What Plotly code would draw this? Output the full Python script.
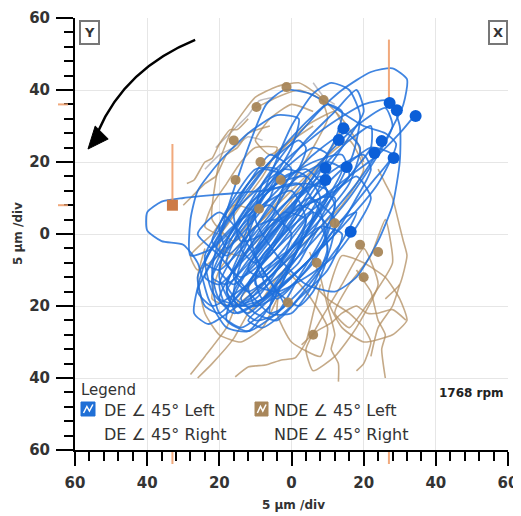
import plotly.graph_objects as go

# ---------------- data ----------------
tick_vals = [-60, -40, -20, 0, 20, 40, 60]
tick_text = ["60", "40", "20", "0", "20", "40", "60"]
axis_title = "5 µm /div"
speed_text = "1768 rpm"
legend_title = "Legend"
legend_de = ["DE ∠ 45° Left", "DE ∠ 45° Right"]
legend_nde = ["NDE ∠ 45° Left", "NDE ∠ 45° Right"]

de_orbit_01 = [(-27,-22),(-24,-8),(-16,6),(-6,20),(4,31),(14,40),(22,45),(28,46),(32,43),(31,36),(26,26),(18,14),(8,2),(-4,-10),(-15,-20),(-23,-25),(-27,-22)]
de_orbit_02 = [(-18,-15),(-12,0),(-6,16),(0,30),(6,39),(11,42),(16,40),(19,33),(17,22),(10,8),(2,-6),(-8,-18),(-15,-22),(-18,-15)]
de_orbit_03 = [(-22,-10),(-18,6),(-12,24),(-7,36),(-2,40),(5,39),(12,35),(20,30),(26,28),(29,25),(24,14),(14,2),(2,-10),(-10,-20),(-20,-18),(-22,-10)]
de_orbit_04 = [(-30,10),(-36,9),(-40,6),(-40,1),(-36,-2),(-30,-3),(-26,-8),(-23,-18),(-18,-26),(-12,-27),(-6,-20),(0,-8),(6,4),(10,12),(4,14),(-8,12),(-20,11),(-30,10)]
de_orbit_05 = [(30,30),(30,20),(28,8),(24,-2),(18,-12),(12,-16),(4,-14),(-4,-6),(-10,4),(-8,14),(0,22),(10,30),(20,36),(27,37),(30,30)]
de_orbit_06 = [(20,22),(12,18),(2,10),(-8,0),(-16,-10),(-20,-18),(-16,-22),(-8,-18),(2,-10),(12,0),(18,10),(22,18),(20,22)]
de_orbit_07 = [(15,28),(6,22),(-4,12),(-14,2),(-22,-8),(-26,-16),(-22,-20),(-12,-14),(-2,-6),(8,4),(16,14),(19,24),(15,28)]
de_orbit_08 = [(26,35),(18,30),(8,20),(-2,8),(-12,-4),(-18,-14),(-14,-19),(-4,-12),(6,-2),(16,10),(24,22),(28,30),(26,35)]
de_orbit_09 = [(5,10),(-2,4),(-10,-6),(-16,-16),(-18,-24),(-12,-27),(-4,-22),(4,-14),(10,-6),(12,4),(5,10)]
de_orbit_10 = [(12,12),(4,8),(-6,0),(-14,-8),(-20,-14),(-24,-12),(-20,-4),(-12,6),(-4,14),(6,20),(14,22),(16,16),(12,12)]
de_orbit_11 = [(22,10),(18,2),(12,-6),(4,-12),(-4,-16),(-10,-14),(-8,-6),(0,2),(10,10),(18,16),(22,10)]
de_orbit_12 = [(-28,4),(-26,12),(-20,20),(-12,28),(-4,33),(2,32),(0,24),(-6,14),(-14,4),(-22,-4),(-28,-6),(-28,4)]
de_orbit_13 = [(10,36),(4,30),(-4,20),(-12,8),(-18,-2),(-22,-12),(-18,-14),(-10,-6),(-2,4),(6,16),(12,26),(14,34),(10,36)]
de_orbit_14 = [(28,22),(22,14),(14,4),(6,-6),(-2,-14),(-8,-18),(-10,-12),(-4,-2),(4,8),(14,18),(22,24),(28,22)]
de_orbit_15 = [(0,0),(-6,-6),(-12,-14),(-10,-20),(-2,-16),(6,-8),(10,2),(6,6),(0,0)]
de_orbit_16 = [(18,40),(12,34),(4,26),(-4,16),(-10,6),(-14,-4),(-10,-8),(-2,0),(6,12),(14,24),(20,34),(18,40)]
de_orbit_17 = [(-8,10),(-14,2),(-18,-8),(-14,-12),(-6,-6),(2,4),(8,14),(4,18),(-2,16),(-8,10)]
de_orbit_18 = [(35,34),(30,28),(24,22),(16,16),(8,10),(0,6),(-6,2),(-10,-4)]
de_orbit_19 = [(-4,-24),(-10,-22),(-14,-18),(-8,-10),(0,-4),(8,2),(14,0),(10,-10),(2,-18),(-4,-24)]
de_orbit_20 = [(-26,0),(-20,-6),(-12,-16),(-6,-22),(-2,-20),(-8,-10),(-14,0),(-20,6),(-26,0)]
de_orbit_21 = [(-16,-20),(-20,-12),(-18,-2),(-12,8),(-4,14),(4,16),(8,10),(4,0),(-2,-10),(-8,-18),(-16,-20)]
de_orbit_22 = [(-10,-24),(-16,-18),(-14,-8),(-8,2),(0,10),(8,14),(12,8),(8,-2),(2,-12),(-4,-22),(-10,-24)]
de_orbit_23 = [(-22,-16),(-24,-6),(-18,4),(-10,12),(-2,18),(4,16),(0,6),(-6,-4),(-12,-14),(-18,-20),(-22,-16)]
de_orbit_24 = [(2,-20),(-4,-16),(-10,-6),(-12,4),(-6,12),(2,14),(8,6),(10,-6),(6,-16),(2,-20)]
de_orbit_25 = [(-14,-26),(-20,-22),(-22,-12),(-16,-2),(-8,8),(0,12),(4,4),(0,-8),(-6,-20),(-14,-26)]
de_orbit_26 = [(10,20),(2,16),(-6,8),(-12,-2),(-16,-12),(-12,-16),(-4,-10),(4,0),(10,10),(14,18),(10,20)]
de_orbit_27 = [(6,24),(-2,18),(-10,10),(-16,0),(-20,-10),(-16,-14),(-8,-6),(0,4),(6,14),(10,22),(6,24)]
de_orbit_28 = [(-24,-20),(-26,-12),(-22,-4),(-14,4),(-6,8),(-2,2),(-8,-8),(-14,-16),(-20,-22),(-24,-20)]
de_orbit_29 = [(14,4),(8,-4),(0,-12),(-8,-20),(-12,-24),(-8,-26),(0,-20),(8,-10),(14,-2),(18,6),(14,4)]
de_orbit_30 = [(-6,22),(-12,14),(-18,6),(-22,-2),(-18,-6),(-10,2),(-4,10),(0,18),(-6,22)]
de_orbit_31 = [(22,30),(16,26),(8,18),(0,8),(-8,-2),(-12,-10),(-8,-12),(0,-4),(8,6),(16,16),(22,24),(22,30)]
de_orbit_32 = [(2,26),(-6,20),(-14,10),(-20,0),(-24,-8),(-20,-10),(-12,-2),(-4,8),(2,18),(4,24),(2,26)]
de_orbit_33 = [(-6,-2),(-12,-10),(-16,-18),(-12,-22),(-4,-14),(2,-4),(6,6),(2,8),(-6,-2)]
de_orbit_34 = [(4,4),(-2,-4),(-8,-12),(-4,-18),(4,-10),(10,0),(12,10),(8,10),(4,4)]
de_orbit_35 = [(-10,18),(-16,10),(-20,2),(-18,-4),(-12,2),(-6,10),(-4,18),(-10,18)]
de_orbit_36 = [(-2,6),(-8,-2),(-14,-10),(-18,-16),(-14,-20),(-6,-12),(0,-4),(4,4),(-2,6)]
de_orbit_37 = [(8,16),(2,10),(-4,2),(-10,-6),(-8,-12),(-2,-6),(4,2),(10,10),(8,16)]
de_orbit_38 = [(-16,-6),(-20,-14),(-18,-20),(-10,-18),(-4,-10),(0,0),(-4,4),(-10,2),(-16,-6)]
de_orbit_39 = [(2,-8),(-4,-14),(-6,-22),(0,-22),(6,-14),(10,-4),(8,2),(2,-8)]
de_orbit_40 = [(-12,14),(-16,6),(-14,-2),(-8,0),(-4,8),(-2,16),(-8,18),(-12,14)]

nde_orbit_01 = [(-20,20),(-16,30),(-10,38),(-4,41),(2,42),(8,38),(10,32),(6,24),(0,14),(-8,4),(-16,-2),(-22,4),(-20,20)]
nde_orbit_02 = [(-29,14),(-27,15),(-24,20),(-22,21),(-20,25),(-17,29),(-15,29),(-12,32)]
nde_orbit_03 = [(-30,8),(-27,11),(-24,14),(-21,16),(-18,22),(-15,24),(-12,28),(-6,30)]
nde_orbit_04 = [(-5,-5),(-9,-9),(-12,-15),(-15,-19),(-18,-26),(-24,-34),(-28,-39)]
nde_orbit_05 = [(0,-8),(-4,-12),(-8,-18),(-12,-22),(-16,-29),(-22,-36),(-26,-40)]
nde_orbit_06 = [(-15.6,-39.7),(-11.9,-36.9),(-7.2,-36.4),(-2.8,-35),(1,-34.4),(4,-30),(6,-22),(8,-14)]
nde_orbit_07 = [(5,-5),(8,-12),(9,-16),(10,-20),(12,-28),(11,-32),(13,-36),(13,-41)]
nde_orbit_08 = [(2.8,-30.8),(7,-27),(11,-24.7),(14,-22),(18,-20),(21,-22),(24,-22),(28,-21),(31.7,-23.9)]
nde_orbit_09 = [(18,-10),(20,-13),(22,-16),(23,-20),(24,-24),(26,-28),(25,-32),(26,-40)]
nde_orbit_10 = [(14,-6),(20,-8),(26,-12),(30,-18),(32,-24),(28,-28),(20,-30),(14,-26),(10,-18),(14,-6)]
nde_orbit_11 = [(24,18),(26,14),(28,10),(30,2),(31,-2),(32,-6),(30,-14),(26,-18)]
nde_orbit_12 = [(16,26),(8,20),(-2,10),(-12,0),(-20,-10),(-22,-18),(-16,-20),(-6,-12),(4,-2),(14,8),(20,18),(16,26)]
nde_orbit_13 = [(12,34),(4,30),(-4,22),(-12,14),(-18,4),(-20,-4),(-14,-6),(-6,2),(2,12),(10,22),(14,30),(12,34)]
nde_orbit_14 = [(-10,35),(-4,38),(2,40),(9,37),(14,32),(18,26),(20,20)]
nde_orbit_15 = [(-24,-4),(-26,-12),(-24,-22),(-20,-28),(-14,-30),(-8,-26),(-4,-18)]
nde_orbit_16 = [(6,-14),(10,-18),(16,-22),(20,-26),(22,-30),(20,-36),(18,-38)]
nde_orbit_17 = [(20,-4),(14,-14),(8,-24),(4,-32),(6,-38),(12,-34),(18,-26),(24,-14),(20,-4)]
nde_orbit_18 = [(-2,-10),(4,-16),(10,-26),(8,-34),(0,-30),(-4,-22),(-2,-10)]
nde_orbit_19 = [(26,4),(22,-6),(16,-14),(12,-22),(16,-26),(22,-18),(28,-8),(26,4)]
nde_orbit_20 = [(-16,8),(-22,0),(-28,-6),(-26,-10),(-18,-4),(-10,6),(-16,8)]
nde_orbit_21 = [(30,-14),(28,-20),(24,-26),(22,-34)]
nde_orbit_22 = [(-14,20),(-18,14),(-22,8),(-24,2),(-20,0),(-14,8),(-8,16),(-4,24),(-10,24),(-14,20)]
nde_orbit_23 = [(6,34),(0,36),(-6,32),(-10,26),(-6,22),(0,26),(6,30)]

gray_orbit_01 = [(-21,24),(-18,27),(-15,30),(-12,33),(-9,37),(-5,38)]
gray_orbit_02 = [(-24,18),(-20,22),(-16,24),(-12,27),(-8,26)]
gray_orbit_03 = [(6,42),(9,38),(12,36)]

de_keyphasor_x = [27.2, 29.2, 34.4, 14.4, 13.1, 25.0, 23.0, 28.3, 15.3, 9.4, 9.4, 16.4]
de_keyphasor_y = [36.4, 34.4, 32.8, 29.4, 26.1, 25.8, 22.5, 21.1, 18.6, 18.3, 15.0, 0.6]

nde_keyphasor_x = [-9.7, -1.4, 8.9, -16, -15.5, -8.6, -3, -9, 12, 19, 7, 20, -1, 6, 24]
nde_keyphasor_y = [35.3, 40.8, 37.2, 26, 15, 20, 15, 7, 3, -3, -8, -12, -19, -28, -5]

filt_x = [-33, 27]
filt_y = [8, 36]
filt_top = [25, 54]

de_orbits = [de_orbit_01, de_orbit_02, de_orbit_03, de_orbit_04, de_orbit_05, de_orbit_06,
             de_orbit_07, de_orbit_08, de_orbit_09, de_orbit_10, de_orbit_11, de_orbit_12,
             de_orbit_13, de_orbit_14, de_orbit_15, de_orbit_16, de_orbit_17, de_orbit_18,
             de_orbit_19, de_orbit_20, de_orbit_21, de_orbit_22, de_orbit_23, de_orbit_24,
             de_orbit_25, de_orbit_26, de_orbit_27, de_orbit_28, de_orbit_29, de_orbit_30,
             de_orbit_31, de_orbit_32, de_orbit_33, de_orbit_34, de_orbit_35, de_orbit_36,
             de_orbit_37, de_orbit_38, de_orbit_39, de_orbit_40]
nde_orbits = [nde_orbit_01, nde_orbit_02, nde_orbit_03, nde_orbit_04, nde_orbit_05, nde_orbit_06,
              nde_orbit_07, nde_orbit_08, nde_orbit_09, nde_orbit_10, nde_orbit_11, nde_orbit_12,
              nde_orbit_13, nde_orbit_14, nde_orbit_15, nde_orbit_16, nde_orbit_17, nde_orbit_18,
              nde_orbit_19, nde_orbit_20, nde_orbit_21, nde_orbit_22, nde_orbit_23]
gray_orbits = [gray_orbit_01, gray_orbit_02, gray_orbit_03]

# ---------------- styles ----------------
BLUE = "rgba(30,112,220,0.85)"
BLUE_DOT = "#0b5fd8"
BROWN = "rgba(178,142,96,0.75)"
BROWN_DOT = "rgba(168,134,88,0.95)"
GRAY = "rgba(150,145,150,0.6)"
ORANGE = "rgba(240,160,110,0.9)"
FONT = "DejaVu Sans"

fig = go.Figure()


def add_paths(paths, color, width, smooth):
    for p in paths:
        fig.add_trace(go.Scatter(
            x=[a for a, b in p], y=[b for a, b in p], mode="lines",
            line=dict(color=color, width=width, shape="spline", smoothing=smooth),
            hoverinfo="skip", showlegend=False))


add_paths(gray_orbits, GRAY, 1.5, 0.4)
add_paths(nde_orbits, BROWN, 1.6, 0.5)
add_paths(de_orbits, BLUE, 1.8, 0.6)

# filtered vectors (orange)
for xv, y0, y1 in zip(filt_x, filt_y, filt_top):
    fig.add_trace(go.Scatter(x=[xv, xv], y=[y0, y1], mode="lines",
                             line=dict(color=ORANGE, width=2), hoverinfo="skip", showlegend=False))

fig.add_trace(go.Scatter(x=nde_keyphasor_x, y=nde_keyphasor_y, mode="markers",
                         marker=dict(color=BROWN_DOT, size=10), hoverinfo="skip", showlegend=False))
fig.add_trace(go.Scatter(x=[filt_x[0]], y=[filt_y[0]], mode="markers",
                         marker=dict(color="#cd7a45", size=11, symbol="square", line=dict(width=0)),
                         hoverinfo="skip", showlegend=False))
fig.add_trace(go.Scatter(x=de_keyphasor_x, y=de_keyphasor_y, mode="markers",
                         marker=dict(color=BLUE_DOT, size=12), hoverinfo="skip", showlegend=False))

# ---------------- layout ----------------
# page is rendered with the browser's default 8px body margin; compensate
OFF = 8
W, H = 521 - OFF, 516 - OFF
PL, PR, PT, PB = 75, 508, 18, 450          # plot area in page pixels
ML, MR, MT, MB = PL - OFF, W - (PR - OFF), PT - OFF, H - (PB - OFF)
pw, ph = W - ML - MR, H - MT - MB


def px(x):
    return (x - OFF - ML) / pw


def py(y):
    return (H - MB - (y - OFF)) / ph


axis_common = dict(
    range=[-60, 60], tickmode="array", tickvals=tick_vals, ticktext=tick_text,
    showgrid=True, gridcolor="#e6e6e6", gridwidth=1, zeroline=False, automargin=False,
    showline=True, linecolor="black", linewidth=2, ticks="outside", tickwidth=2,
    tickcolor="black", tickfont=dict(family=FONT, size=15, color="#333333", weight="bold"),
    minor=dict(tickmode="linear", tick0=0, dtick=4, ticks="outside", ticklen=9,
               tickwidth=2, tickcolor="black", showgrid=False),
    fixedrange=True,
)

fig.update_layout(
    width=W, height=H, margin=dict(l=ML, r=MR, t=MT, b=MB),
    paper_bgcolor="white", plot_bgcolor="white",
    xaxis=dict(**axis_common, ticklen=14, ticklabelstandoff=4),
    yaxis=dict(**axis_common, ticklen=17, ticklabelstandoff=3),
    showlegend=False,
)

shapes = []
# orange markers at axes
for yv in filt_y:
    shapes.append(dict(type="line", xref="paper", yref="y", x0=px(58), x1=px(68), y0=yv, y1=yv,
                       line=dict(color=ORANGE, width=2)))
for xv in filt_x:
    shapes.append(dict(type="line", xref="x", yref="paper", x0=xv, x1=xv, y0=py(452), y1=py(464),
                       line=dict(color=ORANGE, width=2)))
# rotation arrow
shapes.append(dict(type="path", xref="x", yref="y",
                   path="M -26.7,53.9 Q -46,46 -53.6,28.5",
                   line=dict(color="black", width=2.5)))
shapes.append(dict(type="path", xref="x", yref="y",
                   path="M -56.4,23.6 L -54.4,30.0 L -50.8,26.4 Z",
                   fillcolor="black", line=dict(color="black", width=1)))
# legend icons
for (x0, x1, col) in [(81, 95, "#1f6fd6"), (255, 268, "#a8865a")]:
    shapes.append(dict(type="rect", xref="paper", yref="paper", x0=px(x0), x1=px(x1),
                       y0=py(416), y1=py(402), fillcolor=col, line=dict(color=col, width=1)))
    w = x1 - x0
    pts = [(x0 + 0.18 * w, 413), (x0 + 0.42 * w, 406.5), (x0 + 0.6 * w, 411), (x0 + 0.85 * w, 404.5)]
    path = "M " + " L ".join(f"{px(a):.5f},{py(b):.5f}" for a, b in pts)
    shapes.append(dict(type="path", xref="paper", yref="paper", path=path,
                       line=dict(color="white", width=1.5)))
fig.update_layout(shapes=shapes)

ann = []


def text(x, y, s, size=13, bold=False, xanchor="left", color="#333333", **kw):
    ann.append(dict(x=px(x), y=py(y), xref="paper", yref="paper", text=s, showarrow=False,
                    xanchor=xanchor, yanchor="middle",
                    font=dict(family=FONT, size=size, color=color, weight="bold" if bold else "normal"),
                    **kw))


text(293, 505, axis_title, size=12, bold=True, xanchor="center")
text(18, 234, axis_title, size=12, bold=True, xanchor="center", textangle=-90)
text(79, 390, legend_title, size=15)
text(102, 410, legend_de[0], size=16)
text(102, 434, legend_de[1], size=16)
text(272, 410, legend_nde[0], size=16)
text(272, 434, legend_nde[1], size=16)
text(506, 393, speed_text, size=12, bold=True, xanchor="right", color="#222222")
text(89, 33, "Y", size=13, bold=True, xanchor="center", bordercolor="#777777", borderwidth=2,
     borderpad=3, bgcolor="white")
text(498, 33, "X", size=13, bold=True, xanchor="center", bordercolor="#777777", borderwidth=2,
     borderpad=3, bgcolor="white")
fig.update_layout(annotations=ann)

fig.write_html("out.html")
